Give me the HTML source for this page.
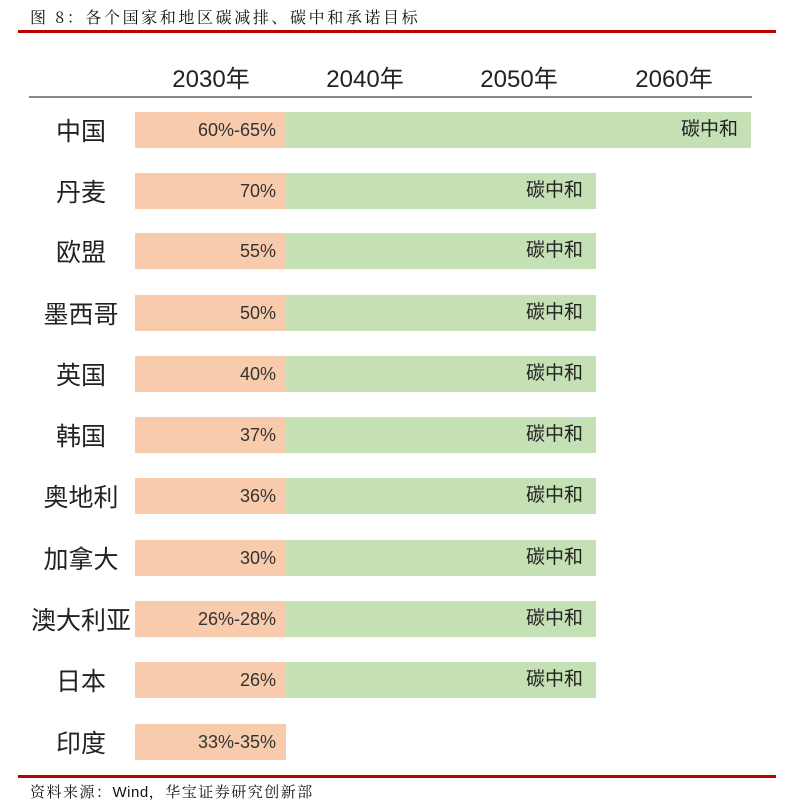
<!DOCTYPE html>
<html><head><meta charset="utf-8"><style>
body{margin:0;width:801px;height:806px;background:#fff;position:relative;overflow:hidden;font-family:"Liberation Sans","Noto Sans CJK SC",sans-serif;}
.a{position:absolute}
.t{font-family:"Noto Serif CJK SC","Liberation Serif",serif;font-size:16px;color:#111;letter-spacing:2.6px;white-space:nowrap}
.y{top:59px;font-size:24px;color:#222;width:120px;text-align:center}
.n{left:25px;width:112px;text-align:center;font-size:25px;color:#222;font-weight:normal;height:36px;line-height:36px;white-space:nowrap;font-family:"Noto Sans CJK SC",sans-serif}
.o{left:135px;width:151px;height:36px;background:#f8cbad;text-align:right;box-sizing:border-box;padding-right:10px;line-height:36px;font-size:18px;color:#333}
.g{left:286px;width:310px;height:36px;background:#c5e0b4;text-align:right;box-sizing:border-box;padding-right:13px;line-height:36px;font-size:19px;color:#222}
</style></head><body>
<div class="a t" style="left:30px;top:5px">图 8：各个国家和地区碳减排、碳中和承诺目标</div>
<div class="a" style="left:18px;top:30px;width:758px;height:3px;background:#c00000"></div>
<div class="a y" style="left:151px">2030年</div>
<div class="a y" style="left:305px">2040年</div>
<div class="a y" style="left:459px">2050年</div>
<div class="a y" style="left:614px">2060年</div>
<div class="a" style="left:29px;top:96px;width:723px;height:2px;background:#888"></div>

<div class="a n" style="top:112px">中国</div><div class="a o" style="top:112px">60%-65%</div><div class="a g" style="top:112px;width:465px">碳中和</div>
<div class="a n" style="top:173px">丹麦</div><div class="a o" style="top:173px">70%</div><div class="a g" style="top:173px">碳中和</div>
<div class="a n" style="top:233px">欧盟</div><div class="a o" style="top:233px">55%</div><div class="a g" style="top:233px">碳中和</div>
<div class="a n" style="top:295px">墨西哥</div><div class="a o" style="top:295px">50%</div><div class="a g" style="top:295px">碳中和</div>
<div class="a n" style="top:356px">英国</div><div class="a o" style="top:356px">40%</div><div class="a g" style="top:356px">碳中和</div>
<div class="a n" style="top:417px">韩国</div><div class="a o" style="top:417px">37%</div><div class="a g" style="top:417px">碳中和</div>
<div class="a n" style="top:478px">奥地利</div><div class="a o" style="top:478px">36%</div><div class="a g" style="top:478px">碳中和</div>
<div class="a n" style="top:540px">加拿大</div><div class="a o" style="top:540px">30%</div><div class="a g" style="top:540px">碳中和</div>
<div class="a n" style="top:601px">澳大利亚</div><div class="a o" style="top:601px">26%-28%</div><div class="a g" style="top:601px">碳中和</div>
<div class="a n" style="top:662px">日本</div><div class="a o" style="top:662px">26%</div><div class="a g" style="top:662px">碳中和</div>
<div class="a n" style="top:724px">印度</div><div class="a o" style="top:724px">33%-35%</div>

<div class="a" style="left:18px;top:775px;width:758px;height:3px;background:#c00000"></div>
<div class="a t" style="left:30px;top:781px;font-size:15px;letter-spacing:1.5px">资料来源：<span style="font-family:'Liberation Sans',sans-serif;letter-spacing:0.5px">Wind</span>，华宝证券研究创新部</div>
</body></html>
